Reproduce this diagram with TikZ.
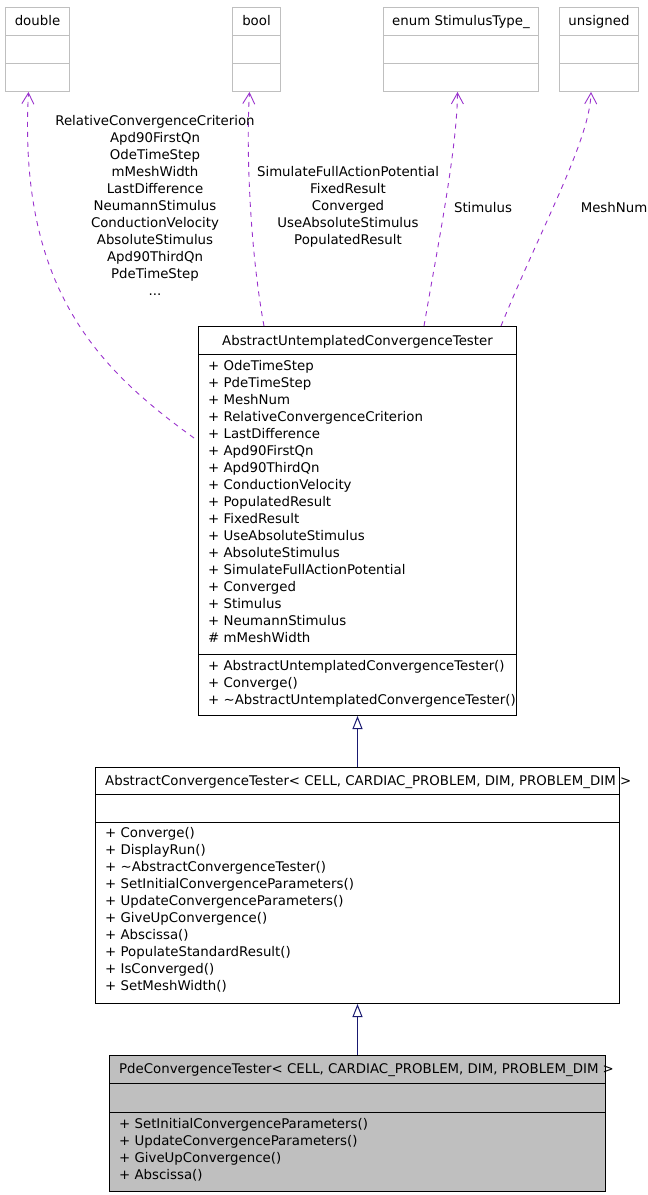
\documentclass[tikz,border=0pt]{standalone}
\usepackage{fontspec}
\setmainfont{DejaVu Sans}
\usetikzlibrary{arrows.meta, positioning}

\definecolor{edgepurple}{RGB}{154,50,205}
\definecolor{inhblue}{RGB}{25,25,112}
\definecolor{boxgrey}{RGB}{191,191,191}

\begin{document}
\begin{tikzpicture}[x=1pt, y=-1pt,
    txt/.style={font=\fontsize{13.33}{17}\selectfont, inner sep=0pt},
    members/.style={txt, align=left, anchor=north west, execute at begin node=\strut},
    edgelabel/.style={txt, align=center, execute at begin node=\strut},
    classbox/.style={draw, line width=1pt, inner sep=0pt, anchor=north west},
    typebox/.style={classbox, draw=boxgrey},
    usage/.style={draw=edgepurple, line width=0.9pt, dash pattern=on 5pt off 5pt, -{Straight Barb[length=11pt,width=12pt]}},
    inherit/.style={draw=inhblue, line width=1pt, -{Triangle[open, length=13pt, width=10pt]}}]

    \useasboundingbox (0,0) rectangle (648,1195);

    \foreach \name/\x/\w/\title in {double/5/64/double, bool/232/48/bool, stimtype/383/155/{enum StimulusType\_}, unsigned/559/79/unsigned} {
        \node[typebox, minimum width=\w pt, minimum height=84pt] (\name) at (\x,7) {};
        \node[txt, anchor=base] (\name-title) at ([yshift=-18.5pt]\name.north) {\title};
        \draw[boxgrey, line width=1pt] ([yshift=-28pt]\name.north west) -- ([yshift=-28pt]\name.north east)
                                       ([yshift=-56pt]\name.north west) -- ([yshift=-56pt]\name.north east);
    }

    \node[classbox, minimum width=318pt, minimum height=389pt] (auct) at (198,326) {};
    \node[txt, anchor=base] (auct-title) at ([yshift=-19pt]auct.north) {AbstractUntemplatedConvergenceTester};
    \draw[line width=1pt] ([yshift=-28pt]auct.north west) -- ([yshift=-28pt]auct.north east)
                          ([yshift=-328pt]auct.north west) -- ([yshift=-328pt]auct.north east);
    \node[members] (auct-attr) at (208,360) {+ OdeTimeStep\\+ PdeTimeStep\\+ MeshNum\\+ RelativeConvergenceCriterion\\+ LastDifference\\+ Apd90FirstQn\\+ Apd90ThirdQn\\+ ConductionVelocity\\+ PopulatedResult\\+ FixedResult\\+ UseAbsoluteStimulus\\+ AbsoluteStimulus\\+ SimulateFullActionPotential\\+ Converged\\+ Stimulus\\+ NeumannStimulus\\\# mMeshWidth};
    \node[members] (auct-ops) at (208,660) {+ AbstractUntemplatedConvergenceTester()\\+ Converge()\\+ \textasciitilde AbstractUntemplatedConvergenceTester()};

    \node[classbox, minimum width=524pt, minimum height=236pt] (act) at (95,767) {};
    \node[txt, anchor=base west] (act-title) at (105,785) {AbstractConvergenceTester< CELL, CARDIAC\_PROBLEM, DIM, PROBLEM\_DIM >};
    \draw[line width=1pt] ([yshift=-27pt]act.north west) -- ([yshift=-27pt]act.north east)
                          ([yshift=-55pt]act.north west) -- ([yshift=-55pt]act.north east);
    \node[members] (act-ops) at (105,827) {+ Converge()\\+ DisplayRun()\\+ \textasciitilde AbstractConvergenceTester()\\+ SetInitialConvergenceParameters()\\+ UpdateConvergenceParameters()\\+ GiveUpConvergence()\\+ Abscissa()\\+ PopulateStandardResult()\\+ IsConverged()\\+ SetMeshWidth()};

    \node[classbox, fill=boxgrey, minimum width=496pt, minimum height=136pt] (pde) at (109,1055) {};
    \node[txt, anchor=base west] (pde-title) at (119,1073) {PdeConvergenceTester< CELL, CARDIAC\_PROBLEM, DIM, PROBLEM\_DIM >};
    \draw[line width=1pt] ([yshift=-28pt]pde.north west) -- ([yshift=-28pt]pde.north east)
                          ([yshift=-57pt]pde.north west) -- ([yshift=-57pt]pde.north east);
    \node[members] (pde-ops) at (119,1118) {+ SetInitialConvergenceParameters()\\+ UpdateConvergenceParameters()\\+ GiveUpConvergence()\\+ Abscissa()};

    \draw[inherit] (act.north) -- (auct.south);
    \draw[inherit] (pde.north) -- (act.south);

    \draw[usage] ([xshift=-4pt,yshift=-112pt]auct.north west) .. controls (100,370) and (18,290) .. ([xshift=-9pt]double.south);
    \draw[usage] ([xshift=66pt]auct.north west) .. controls (250,250) and (246,150) .. ([xshift=-7pt]bool.south);
    \draw[usage] ([xshift=226pt]auct.north west) .. controls (437,250) and (457,150) .. ([xshift=-3.5pt]stimtype.south);
    \draw[usage] ([xshift=303pt]auct.north west) .. controls (540,230) and (590,140) .. ([xshift=-8pt]unsigned.south);

    \node[edgelabel, anchor=north] (double-lbl) at (155,115) {RelativeConvergenceCriterion\\Apd90FirstQn\\OdeTimeStep\\mMeshWidth\\LastDifference\\NeumannStimulus\\ConductionVelocity\\AbsoluteStimulus\\Apd90ThirdQn\\PdeTimeStep\\...};
    \node[edgelabel, anchor=north] (bool-lbl) at (348,166) {SimulateFullActionPotential\\FixedResult\\Converged\\UseAbsoluteStimulus\\PopulatedResult};
    \node[txt, anchor=base] (stim-lbl) at (483,212) {Stimulus};
    \node[txt, anchor=base] (mesh-lbl) at (614,212) {MeshNum};
\end{tikzpicture}
\end{document}
